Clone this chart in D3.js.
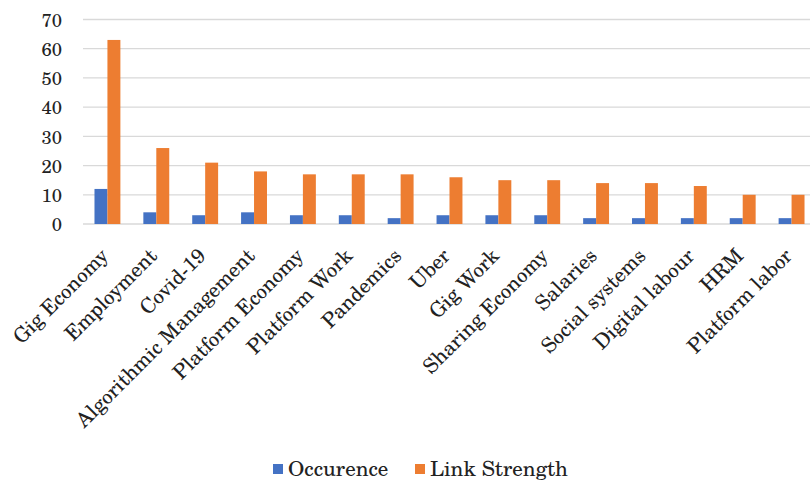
<!DOCTYPE html>
<html>
<head>
<meta charset="utf-8">
<script src="https://cdnjs.cloudflare.com/ajax/libs/d3/7.8.5/d3.min.js"></script>
<style>
  html, body { margin: 0; padding: 0; background: #fff; }
  svg { display: block; }
  text { font-family: "TeX Gyre Schola", "Century Schoolbook L", "DejaVu Serif", serif; fill: #222; }
</style>
</head>
<body>
<svg id="chart" width="810" height="485"></svg>
<script>
// Keywords and their counts
const categories = [
  "Gig Economy", "Employment", "Covid-19", "Algorithmic Management",
  "Platform Economy", "Platform Work", "Pandemics", "Uber", "Gig Work",
  "Sharing Economy", "Salaries", "Social systems", "Digital labour",
  "HRM", "Platform labor"
];
const occurrence   = [12, 4, 3, 4, 3, 3, 2, 3, 3, 3, 2, 2, 2, 2, 2];
const linkStrength = [63, 26, 21, 18, 17, 17, 17, 16, 15, 15, 14, 14, 13, 10, 10];
const seriesNames  = ["Occurence", "Link Strength"];
const seriesColors = ["#4472C4", "#ED7D31"];
const yTicks       = [0, 10, 20, 30, 40, 50, 60, 70];

const svg = d3.select("#chart");
const plot = { left: 83, right: 816, top: 19.5, bottom: 224 };

const x = d3.scaleBand()
  .domain(categories)
  .range([plot.left, plot.right])
  .paddingInner(0.47)
  .paddingOuter(0.235);

const xSeries = d3.scaleBand()
  .domain(seriesNames)
  .range([0, x.bandwidth()]);

const y = d3.scaleLinear()
  .domain([0, 70])
  .range([plot.bottom, plot.top]);

// Horizontal gridlines
svg.append("g")
  .selectAll("line")
  .data(yTicks)
  .join("line")
  .attr("x1", plot.left)
  .attr("x2", plot.right)
  .attr("y1", d => y(d))
  .attr("y2", d => y(d))
  .attr("stroke", "#d9d9d9")
  .attr("stroke-width", 1.3);

// Y axis labels
const yAxis = svg.append("g")
  .attr("transform", `translate(${plot.left - 21},0)`)
  .call(d3.axisLeft(y).tickValues(yTicks).tickSize(0).tickPadding(0));
yAxis.select(".domain").remove();
yAxis.selectAll("text")
  .style("font-size", "18.5px")
  .attr("dy", "0.36em");

// Bars
const rows = categories.map((c, i) => ({ cat: c, values: [occurrence[i], linkStrength[i]] }));
const groups = svg.append("g")
  .selectAll("g")
  .data(rows)
  .join("g")
  .attr("transform", d => `translate(${x(d.cat)},0)`);

groups.selectAll("rect")
  .data(d => d.values.map((v, k) => ({ name: seriesNames[k], value: v, color: seriesColors[k] })))
  .join("rect")
  .attr("x", d => xSeries(d.name))
  .attr("width", xSeries.bandwidth())
  .attr("y", d => y(d.value))
  .attr("height", d => y(0) - y(d.value))
  .attr("fill", d => d.color);

// Category labels, rotated
const xAxis = svg.append("g")
  .attr("transform", `translate(0,${plot.bottom})`)
  .call(d3.axisBottom(x).tickSize(0).tickPadding(0));
xAxis.select(".domain").remove();
xAxis.selectAll("text")
  .style("font-size", "20.5px")
  .attr("text-anchor", "end")
  .attr("dy", null)
  .attr("y", 0)
  .attr("transform", "translate(2,33) rotate(-45)");

// Legend
const legend = svg.append("g").attr("transform", "translate(273,464)");
const legendX = [0, 142];
seriesNames.forEach((name, k) => {
  const g = legend.append("g").attr("transform", `translate(${legendX[k]},0)`);
  g.append("rect").attr("x", 0).attr("y", 0).attr("width", 10).attr("height", 10).attr("fill", seriesColors[k]);
  g.append("text").attr("x", 15).attr("y", 11.5)
    .style("font-size", "21px").text(name);
});
</script>
</body>
</html>
